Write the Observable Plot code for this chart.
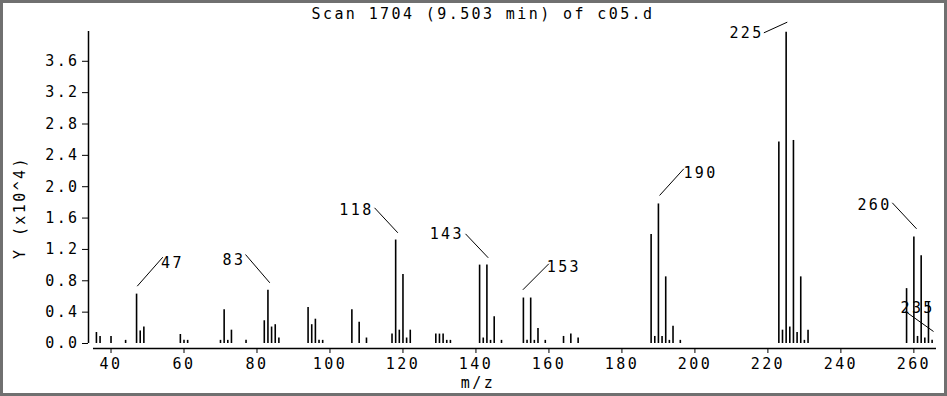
<!DOCTYPE html>
<html>
<head>
<meta charset="utf-8">
<script src="https://cdn.jsdelivr.net/npm/d3@7"></script>
<script src="https://cdn.jsdelivr.net/npm/@observablehq/plot@0.6"></script>
<style>
  html, body { margin: 0; padding: 0; background: white; }
  #wrap { position: relative; width: 947px; height: 396px; }
  #border { position: absolute; left: 0; top: 0; width: 947px; height: 396px; box-sizing: border-box;
            border: 3px solid #707070; pointer-events: none; }
</style>
</head>
<body>
<div id="wrap"><div id="chart"></div><div id="border"></div></div>
<script>
// m/z values and abundances (x10^4)
const mz = [36,37,40,44,47,48,49,59,60,61,70,71,72,73,77,82,83,84,85,86,
            94,95,96,97,98,106,108,110,117,118,119,120,121,122,129,130,131,132,133,
            141,142,143,144,145,147,153,154,155,156,157,159,164,166,168,
            188,189,190,191,192,193,194,196,
            223,224,225,226,227,228,229,230,231,
            258,260,261,262,263,264,265];
const abundance = [0.14,0.09,0.09,0.04,0.63,0.16,0.21,0.115,0.04,0.04,0.04,0.43,0.04,0.17,0.04,0.29,0.68,0.21,0.24,0.07,
            0.46,0.24,0.31,0.04,0.04,0.43,0.27,0.07,0.12,1.32,0.17,0.88,0.07,0.17,0.12,0.12,0.12,0.04,0.04,
            1.0,0.07,1.0,0.04,0.34,0.04,0.58,0.04,0.58,0.04,0.19,0.04,0.09,0.12,0.07,
            1.39,0.09,1.78,0.09,0.85,0.04,0.22,0.04,
            2.57,0.17,3.97,0.21,2.59,0.14,0.85,0.04,0.17,
            0.70,1.36,0.09,1.12,0.07,0.53,0.04];

// tick values
const xTicks = [40,60,80,100,120,140,160,180,200,220,240,260];
const yTicks = [0,0.4,0.8,1.2,1.6,2.0,2.4,2.8,3.2,3.6];

// peak labels (text position in data units) and leader lines
const labelText = ["47","83","118","143","153","190","225","260","235"];
const labelMz   = [56.85,73.7,107.27,132.02,164.1,201.55,214.15,249.23,261.02];
const labelVal  = [1.02,1.059,1.706,1.399,0.973,2.178,3.963,1.76,0.446];
const leadMz1  = [47.18,76.85,112.21,137.14,152.85,190.31,218.89,254.08,257.72];
const leadVal1 = [0.731,1.135,1.731,1.399,0.685,1.888,3.963,1.795,0.408];
const leadMz2  = [54.19,83.51,118.59,143.37,159.97,196.97,225.31,260.74,265.39];
const leadVal2 = [1.101,0.774,1.412,1.093,1.017,2.229,4.099,1.463,0.153];

const titleText = "Scan 1704 (9.503 min) of c05.d";
const xLabel = "m/z";
const yLabel = "Y (x10^4)";

const peaks = mz.map((m, i) => ({mz: m, v: abundance[i]}));
const labels = labelText.map((t, i) => ({t, x: labelMz[i], y: labelVal[i]}));
const leaders = leadMz1.map((m, i) => ({x1: m, y1: leadVal1[i], x2: leadMz2[i], y2: leadVal2[i]}));

const FS = 15;
const chart = Plot.plot({
  width: 947,
  height: 396,
  marginLeft: 93,
  marginRight: 11,
  marginTop: 31,
  marginBottom: 53,
  x: {domain: [35.2, 266.2]},
  y: {domain: [0, 3.98]},
  style: {fontFamily: "'DejaVu Sans Mono', monospace", fontSize: FS + "px", letterSpacing: "2.4px", color: "black", background: "white"},
  marks: [
    Plot.ruleY([0], {dy: 5, stroke: "black", strokeWidth: 1.5}),
    Plot.ruleX([35.2], {dx: -5, stroke: "black", strokeWidth: 1.5}),
    Plot.axisX({ticks: xTicks, tickSize: 5, dy: 5, tickPadding: 5, tickFormat: d => String(d), label: null, fontSize: FS}),
    Plot.axisY({ticks: yTicks, tickSize: 6, dx: -5, tickPadding: 3, tickFormat: d3.format(".1f"), label: null, fontSize: FS}),
    Plot.ruleX(peaks, {x: "mz", y1: 0, y2: "v", stroke: "black", strokeWidth: 1.6}),
    Plot.link(leaders, {x1: "x1", y1: "y1", x2: "x2", y2: "y2", stroke: "black", strokeWidth: 1}),
    Plot.text(labels, {x: "x", y: "y", text: "t", fill: "black", fontSize: FS}),
    Plot.text([titleText], {frameAnchor: "top", textAnchor: "middle", lineAnchor: "middle", dx: -32, dy: -17, fill: "black", fontSize: FS}),
    Plot.text([xLabel], {frameAnchor: "bottom", textAnchor: "middle", lineAnchor: "middle", dx: -37, dy: 40, fill: "black", fontSize: FS}),
    Plot.text([yLabel], {frameAnchor: "left", textAnchor: "middle", lineAnchor: "middle", dx: -73, dy: 20, rotate: -90, fill: "black", fontSize: FS})
  ]
});
document.getElementById("chart").appendChild(chart);
</script>
</body>
</html>
